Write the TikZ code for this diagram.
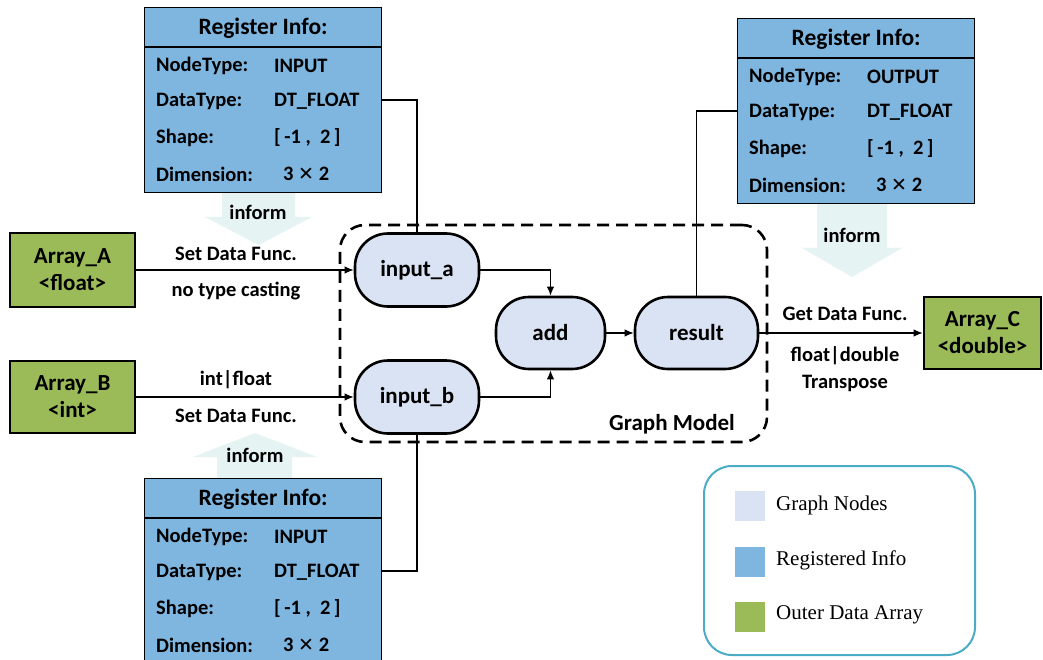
\documentclass[tikz,border=0pt]{standalone}
\usepackage{fontspec}
\setmainfont{Carlito}
\newfontfamily\legfont{Liberation Serif}
\newfontfamily\symfnt{DejaVu Sans}
\usetikzlibrary{arrows.meta}
\definecolor{cGraph}{HTML}{DAE3F3}
\definecolor{cReg}{HTML}{7FB6E0}
\definecolor{cArr}{HTML}{9BBB59}
\definecolor{cInf}{HTML}{E6F3F3}
\definecolor{cLeg}{HTML}{4BACC6}
\tikzset{
  graphnode/.style={draw=black, line width=2.6pt, fill=cGraph, rounded corners=33pt,
    minimum height=73pt, inner sep=0pt, font=\fontsize{23}{27}\selectfont\bfseries},
  arraybox/.style={draw=black, line width=2.6pt, fill=cArr, align=center, inner sep=0pt,
    font=\fontsize{23}{27}\selectfont\bfseries},
  regframe/.style={draw=black, line width=1.3pt, fill=cReg, inner sep=0pt},
  hdrtxt/.style={inner sep=0pt, font=\fontsize{23.5}{27}\selectfont\bfseries},
  rowtxt/.style={anchor=west, inner sep=0pt, font=\fontsize{20.5}{24}\selectfont\bfseries},
  lbl/.style={inner sep=0pt, font=\fontsize{20.5}{24}\selectfont\bfseries},
  conn/.style={line width=1.3pt},
  arrowc/.style={line width=1.3pt, -{Latex[length=9pt,width=7.5pt]}},
  informarrow/.style={fill=cInf, draw=none},
  legtxt/.style={anchor=west, inner sep=0pt, font=\legfont\fontsize{21}{24}\selectfont},
  legsq/.style={minimum size=30pt, inner sep=0pt, draw=none}
}
\newcommand\RegInfoBox[4]{%
  \node[regframe, anchor=north west, minimum width=237pt, minimum height=185pt] (#1) at (#2,#3) {};
  \draw[line width=1.3pt] ([yshift=-40pt]#1.north west) -- ([yshift=-40pt]#1.north east);
  \node[hdrtxt] (#1-h) at ([yshift=-21pt]#1.north) {Register Info:};
  \node[rowtxt] (#1-l1) at ([xshift=12pt,yshift=-59pt]#1.north west) {NodeType:};
  \node[rowtxt] (#1-v1) at ([xshift=130pt,yshift=-59pt]#1.north west) {#4};
  \node[rowtxt] (#1-l2) at ([xshift=12pt,yshift=-94pt]#1.north west) {DataType:};
  \node[rowtxt] (#1-v2) at ([xshift=130pt,yshift=-94pt]#1.north west) {DT\_FLOAT};
  \node[rowtxt] (#1-l3) at ([xshift=12pt,yshift=-131pt]#1.north west) {Shape:};
  \node[rowtxt] (#1-v3) at ([xshift=130pt,yshift=-131pt]#1.north west) {[\,-1 ,\ \ 2\,]};
  \node[rowtxt] (#1-l4) at ([xshift=12pt,yshift=-167pt]#1.north west) {Dimension:};
  \node[rowtxt] (#1-v4) at ([xshift=139pt,yshift=-167pt]#1.north west) {3 {\symfnt\mdseries\fontsize{19}{22}\selectfont ✕} 2};
  \coordinate (#1-ce) at ([yshift=-93pt]#1.north east);
  \coordinate (#1-cw) at ([yshift=-93pt]#1.north west);
}
\begin{document}
\begin{tikzpicture}[x=1pt,y=-1pt]
\useasboundingbox (0,0) rectangle (1043,660);
\clip (0,0) rectangle (1043,660);
\fill[white] (0,0) rectangle (1043,660);

% inform arrows
\fill[informarrow] (222,193) -- (295,193) -- (295,217) -- (312,217) -- (258.5,245) -- (205,217) -- (222,217) -- cycle;
\fill[informarrow] (817,204) -- (887,204) -- (887,248) -- (902,248) -- (852,277) -- (802,248) -- (817,248) -- cycle;
\fill[informarrow] (217,478) -- (292,478) -- (292,457) -- (317,457) -- (255,433) -- (193,457) -- (217,457) -- cycle;
\node[lbl] (inf1) at (258,212) {inform};
\node[lbl] (inf2) at (852,235) {inform};
\node[lbl] (inf3) at (255,455) {inform};

% graph model frame
\node[draw=black, line width=2.6pt, dash pattern=on 12pt off 7pt, rounded corners=25pt,
  minimum width=427pt, minimum height=217pt, inner sep=0pt] (gm) at (553.5,333.5) {};
\node[lbl, font=\fontsize{23}{27}\selectfont\bfseries] (gmt) at (672,424) {Graph Model};

% register boxes
\RegInfoBox{r1}{144}{7}{INPUT}
\RegInfoBox{r2}{737}{18}{OUTPUT}
\RegInfoBox{r3}{144}{478}{INPUT}

% graph nodes
\node[graphnode, minimum width=124pt] (ina) at (417,270) {input\_a};
\node[graphnode, minimum width=124pt] (inb) at (417,397) {input\_b};
\node[graphnode, minimum width=109pt, minimum height=72pt] (add) at (550.5,333) {add};
\node[graphnode, minimum width=123pt, minimum height=72pt] (res) at (696.5,333) {result};

% arrays
\node[arraybox, minimum width=125pt, minimum height=74pt] (A) at (72.5,270) {Array\_A\\<float>};
\node[arraybox, minimum width=125pt, minimum height=72pt] (B) at (72.5,397) {Array\_B\\<int>};
\node[arraybox, minimum width=117pt, minimum height=72pt] (C) at (982.5,333) {Array\_C\\<double>};

% connectors
\draw[arrowc] (A) -- (ina);
\draw[arrowc] (B) -- (inb);
\draw[arrowc] (ina.east) -| (add.north);
\draw[arrowc] (inb.east) -| (add.south);
\draw[arrowc] (add) -- (res);
\draw[arrowc] (res) -- (C);
\draw[conn] (r1-ce) -| (ina.north);
\draw[conn] (r3-ce) -| (inb.south);
\draw[conn] (r2-cw) -| (res.north);

% labels
\node[lbl] (la1) at (236,254) {Set Data Func.};
\node[lbl] (la2) at (236,291) {no type casting};
\node[lbl] (lb1) at (236,380) {int|float};
\node[lbl] (lb2) at (236,416) {Set Data Func.};
\node[lbl] (lc1) at (845,314) {Get Data Func.};
\node[lbl] (lc2) at (845,356) {float|double};
\node[lbl] (lc3) at (845,383) {Transpose};

% legend
\node[draw=cLeg, line width=2pt, rounded corners=28pt, minimum width=271pt, minimum height=189pt, inner sep=0pt] (leg) at (839.5,560.5) {};
\node[legsq, fill=cGraph] (s1) at (750,505.5) {};
\node[legsq, fill=cReg] (s2) at (750,561.5) {};
\node[legsq, fill=cArr] (s3) at (750,616.5) {};
\node[legtxt] (t1) at (776,505) {Graph Nodes};
\node[legtxt] (t2) at (776,560) {Registered Info};
\node[legtxt] (t3) at (776,615) {Outer Data Array};
\end{tikzpicture}
\end{document}
